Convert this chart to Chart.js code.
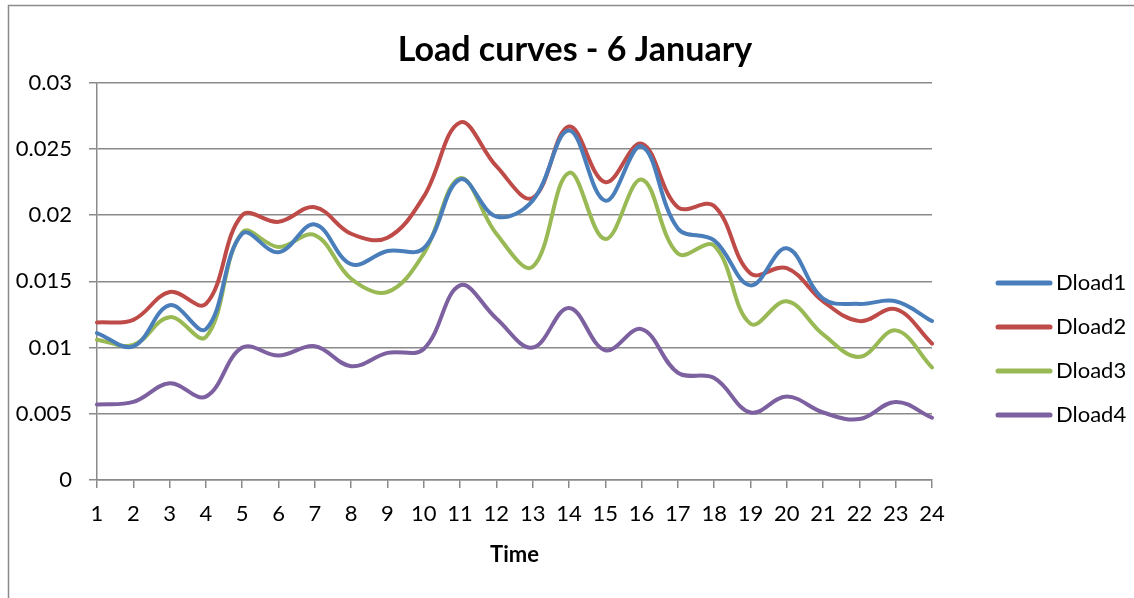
<!DOCTYPE html>
<html>
<head>
<meta charset="utf-8">
<title>Load curves - 6 January</title>
<script src="https://cdn.jsdelivr.net/npm/chart.js@4/dist/chart.umd.min.js"></script>
<style>
  html, body { margin: 0; padding: 0; background: #ffffff; }
  #wrap { position: relative; width: 1134px; height: 598px; }
</style>
</head>
<body>
<div id="wrap"><canvas id="chart" width="1134" height="598"></canvas></div>
<script>
// Hours of the day
const hours = ['1','2','3','4','5','6','7','8','9','10','11','12',
               '13','14','15','16','17','18','19','20','21','22','23','24'];

// Hourly load values per load point
const dload1 = [0.0111,0.0101,0.0132,0.0114,0.0186,0.0172,0.0193,0.0163,0.0173,0.0175,0.0227,0.0199,
                0.0211,0.0264,0.0211,0.0252,0.0190,0.0181,0.0147,0.0175,0.0137,0.0133,0.0135,0.0120];
const dload2 = [0.0119,0.0121,0.0142,0.0133,0.0200,0.0195,0.0206,0.0186,0.0183,0.0214,0.0270,0.0237,
                0.0213,0.0267,0.0225,0.0254,0.0206,0.0207,0.0156,0.0160,0.0135,0.0120,0.0129,0.0103];
const dload3 = [0.0106,0.0102,0.0123,0.0108,0.0187,0.0176,0.0185,0.0152,0.0142,0.0171,0.0228,0.0186,
                0.0161,0.0232,0.0182,0.0227,0.0171,0.0177,0.0118,0.0135,0.0110,0.0093,0.0113,0.0085];
const dload4 = [0.0057,0.0059,0.0073,0.0063,0.0100,0.0094,0.0101,0.0086,0.0096,0.0099,0.0147,0.0122,
                0.0100,0.0130,0.0098,0.0114,0.0081,0.0077,0.0051,0.0063,0.0051,0.0046,0.0059,0.0047];

const seriesNames = ['Dload1', 'Dload2', 'Dload3', 'Dload4'];
const yTickLabels = ['0', '0.005', '0.01', '0.015', '0.02', '0.025', '0.03'];

const colors = ['#4A7EBB', '#BE4B48', '#98B954', '#7D60A0'];
const GRID = '#8a8a8a';
const FONT = 'Lato, "Open Sans", "DejaVu Sans", sans-serif';

function lineSet(label, data, color) {
  return {
    label, data,
    borderColor: color,
    backgroundColor: color,
    borderWidth: 4,
    borderCapStyle: 'round',
    borderJoinStyle: 'round',
    pointRadius: 0,
    pointHoverRadius: 0,
    tension: 0.38,
    fill: false
  };
}

// Frame around the chart (left and top edges only)
const framePlugin = {
  id: 'frame',
  beforeDraw(chart) {
    const ctx = chart.ctx;
    ctx.save();
    ctx.strokeStyle = GRID;
    ctx.lineWidth = 1.5;
    ctx.beginPath();
    ctx.moveTo(8.5, chart.height);
    ctx.lineTo(8.5, 5.5);
    ctx.lineTo(chart.width, 5.5);
    ctx.stroke();
    ctx.restore();
  }
};

// Series key to the right of the plot
const sideLegendPlugin = {
  id: 'sideLegend',
  afterDraw(chart) {
    const ctx = chart.ctx;
    const area = chart.chartArea;
    const x0 = area.right + 66;
    const lineLen = 52;
    const yStart = 283;
    const step = 44;
    ctx.save();
    ctx.font = '22px ' + FONT;
    ctx.textBaseline = 'middle';
    ctx.textAlign = 'left';
    chart.data.datasets.forEach((ds, i) => {
      const y = yStart + i * step;
      ctx.strokeStyle = ds.borderColor;
      ctx.lineWidth = 5;
      ctx.lineCap = 'round';
      ctx.beginPath();
      ctx.moveTo(x0, y);
      ctx.lineTo(x0 + lineLen, y);
      ctx.stroke();
      ctx.fillStyle = '#000000';
      ctx.fillText(ds.label, x0 + lineLen + 6, y);
    });
    ctx.restore();
  }
};

new Chart(document.getElementById('chart'), {
  type: 'line',
  data: {
    labels: hours,
    datasets: [
      lineSet(seriesNames[0], dload1, colors[0]),
      lineSet(seriesNames[1], dload2, colors[1]),
      lineSet(seriesNames[2], dload3, colors[2]),
      lineSet(seriesNames[3], dload4, colors[3])
    ]
  },
  options: {
    responsive: false,
    animation: false,
    events: [],
    layout: { padding: { left: 16, right: 0, top: 0, bottom: 0 } },
    plugins: {
      legend: { display: false },
      tooltip: { enabled: false },
      title: {
        display: true,
        text: 'Load curves - 6 January',
        color: '#000000',
        font: { family: FONT, size: 34, weight: 'bold', lineHeight: 1.2 },
        padding: { top: 30, bottom: 12 }
      }
    },
    scales: {
      x: {
        type: 'category',
        offset: false,
        grid: {
          display: true,
          drawOnChartArea: false,
          drawTicks: true,
          tickLength: 8,
          color: GRID,
          lineWidth: 1.5
        },
        border: { display: true, color: GRID, width: 1.5 },
        ticks: {
          color: '#000000',
          font: { family: FONT, size: 22 },
          padding: 13,
          maxRotation: 0,
          autoSkip: false
        },
        title: {
          display: true,
          text: 'Time',
          color: '#000000',
          font: { family: FONT, size: 22, weight: 'bold', lineHeight: 1.2 },
          padding: { top: 0, bottom: 30 }
        },
        afterFit(scale) { scale.height = 118; }
      },
      y: {
        type: 'linear',
        position: 'left',
        min: 0,
        max: 0.03,
        grid: {
          display: true,
          drawTicks: true,
          tickLength: 8,
          color: GRID,
          lineWidth: 1.5
        },
        border: { display: true, color: GRID, width: 1.5 },
        ticks: {
          stepSize: 0.005,
          color: '#000000',
          font: { family: FONT, size: 22 },
          padding: 17,
          callback: (value, index) => yTickLabels[index]
        },
        afterFit(scale) { scale.width = 81; }
      },
      // empty right-hand band that holds the series key
      key: {
        type: 'linear',
        position: 'right',
        display: true,
        grid: { display: false, drawTicks: false },
        border: { display: false },
        ticks: { display: false },
        afterFit(scale) { scale.width = 202; }
      }
    }
  },
  plugins: [framePlugin, sideLegendPlugin]
});
</script>
</body>
</html>
